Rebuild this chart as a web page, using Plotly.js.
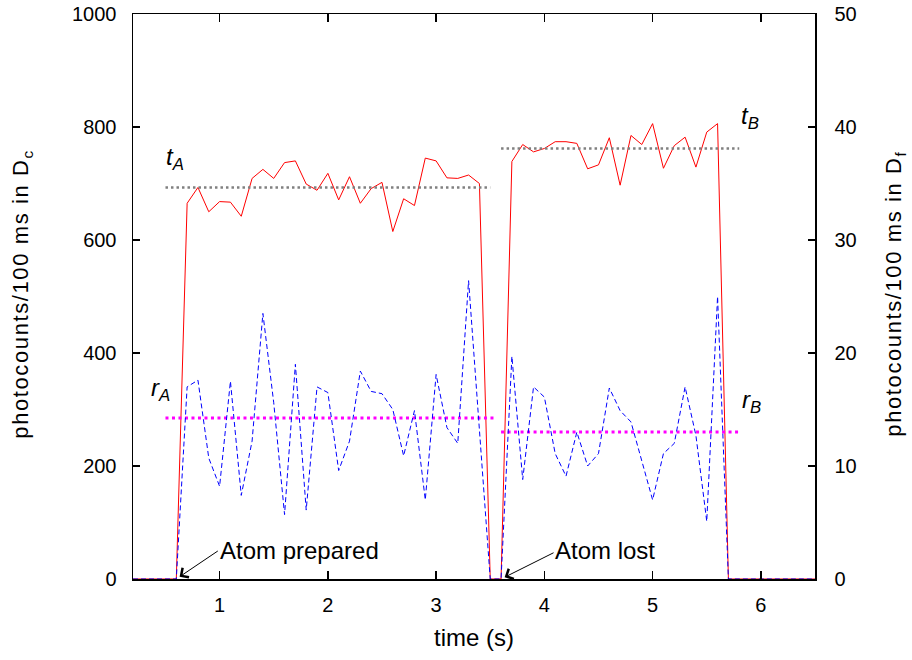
<!DOCTYPE html>
<html>
<head>
<meta charset="utf-8">
<script src="https://cdn.plot.ly/plotly-3.0.1.min.js"></script>
<style>
  html, body { margin: 0; padding: 0; background: #fff; }
  #chart { width: 912px; height: 660px; }
  .annotation[data-index="0"] .annotation-text,
  .annotation[data-index="1"] .annotation-text { letter-spacing: 1.6px; }
</style>
</head>
<body>
<div id="chart"></div>
<script>
// time axis (s)
const time = [0.2, 0.3, 0.4, 0.5, 0.6, 0.7, 0.8, 0.9, 1.0, 1.1, 1.2, 1.3, 1.4, 1.5, 1.6, 1.7, 1.8, 1.9,
  2.0, 2.1, 2.2, 2.3, 2.4, 2.5, 2.6, 2.7, 2.8, 2.9, 3.0, 3.1, 3.2, 3.3, 3.4, 3.5, 3.6, 3.7, 3.8, 3.9,
  4.0, 4.1, 4.2, 4.3, 4.4, 4.5, 4.6, 4.7, 4.8, 4.9, 5.0, 5.1, 5.2, 5.3, 5.4, 5.5, 5.6, 5.7, 5.8, 5.9,
  6.0, 6.1, 6.2, 6.3, 6.4, 6.5];

// photocounts in Dc (left axis)
const countsDc = [0, 0, 0, 0, 0,
  665, 693, 650, 668, 667, 642, 709, 725, 709, 737, 740, 699, 688, 718, 671, 712, 665, 691, 702, 615,
  673, 661, 745, 740, 710, 709, 715, 700,
  0, 0,
  739, 769, 756, 762, 774, 774, 771, 726, 733, 781, 697, 785, 769, 806, 727, 767, 782, 729, 791, 806,
  0, 0, 0, 0, 0, 0, 0, 0, 0];

// photocounts in Df (right axis)
const countsDf = [0, 0, 0, 0, 0,
  17.0, 17.6, 10.7, 8.2, 17.5, 7.4, 12.2, 23.5, 15.6, 5.7, 19.0, 6.1, 17.0, 16.5, 9.6, 12.2, 18.4, 16.6,
  16.4, 15.0, 10.9, 14.9, 7.0, 18.1, 13.4, 12.0, 26.4, 13.0,
  0, 0,
  19.7, 8.8, 17.0, 16.1, 11.1, 9.1, 13.0, 10.0, 11.1, 16.9, 14.9, 13.9, 10.4, 7.0, 11.1, 12.0, 17.0, 12.7,
  5.1, 25.0,
  0, 0, 0, 0, 0, 0, 0, 0, 0];

// mean levels (left-axis units)
const tAx = [0.5, 3.5],  tAy = 693;
const tBx = [3.6, 5.8],  tBy = 762;
const rAx = [0.5, 3.55], rAy = 285;
const rBx = [3.6, 5.8],  rBy = 260;

const xTicks = [1, 2, 3, 4, 5, 6];
const yTicks = [0, 200, 400, 600, 800, 1000];
const y2Ticks = [0, 10, 20, 30, 40, 50];

const FONT = 'Liberation Sans, Arial, sans-serif';

const traces = [
  {x: time, y: countsDf, yaxis: 'y2', type: 'scatter', mode: 'lines',
   line: {color: '#0000ff', width: 1, dash: '5px,3px'}, hoverinfo: 'skip'},
  {x: time, y: countsDc, yaxis: 'y', type: 'scatter', mode: 'lines',
   line: {color: '#ff0000', width: 1}, hoverinfo: 'skip'},
  {x: tAx, y: [tAy, tAy], mode: 'lines', line: {color: '#808080', width: 2.5, dash: '2.5px,3px'}},
  {x: tBx, y: [tBy, tBy], mode: 'lines', line: {color: '#808080', width: 2.5, dash: '2.5px,3px'}},
  {x: rAx, y: [rAy, rAy], mode: 'lines', line: {color: '#ff00ff', width: 3, dash: '3px,3.5px'}},
  {x: rBx, y: [rBy, rBy], mode: 'lines', line: {color: '#ff00ff', width: 3, dash: '3px,3.5px'}}
];

const annFont = {family: FONT, size: 24, color: '#000'};
const titleFont = {family: FONT, size: 22, color: '#000'};
const arrowStyle = {showarrow: true, arrowhead: 4, arrowsize: 2.2, arrowwidth: 1, arrowcolor: '#000', standoff: 4};

const layout = {
  width: 912, height: 660,
  margin: {l: 133, r: 97, t: 14, b: 81},
  paper_bgcolor: '#fff', plot_bgcolor: '#fff',
  showlegend: false,
  font: {family: FONT, size: 20, color: '#000'},
  xaxis: {
    range: [0.2, 6.5], tickvals: xTicks, ticktext: xTicks.map(String),
    ticks: 'inside', ticklen: 8, tickwidth: 1.5, tickcolor: '#000',
    showline: true, linecolor: '#000', linewidth: 1.5, mirror: 'ticks',
    showgrid: false, zeroline: false,
    tickfont: {size: 20}, ticklabelstandoff: 7
  },
  yaxis: {
    range: [0, 1000], tickvals: yTicks, ticktext: yTicks.map(String),
    ticks: 'inside', ticklen: 7, tickwidth: 1.5, tickcolor: '#000',
    showline: true, linecolor: '#000', linewidth: 1.5,
    showgrid: false, zeroline: false,
    tickfont: {size: 20}, ticklabelstandoff: 11
  },
  yaxis2: {
    overlaying: 'y', side: 'right',
    range: [0, 50], tickvals: y2Ticks, ticktext: y2Ticks.map(String),
    ticks: 'inside', ticklen: 7, tickwidth: 1.5, tickcolor: '#000',
    showline: true, linecolor: '#000', linewidth: 1.5,
    showgrid: false, zeroline: false,
    tickfont: {size: 20}, ticklabelstandoff: 14
  },
  annotations: [
    // axis titles
    {xref: 'paper', yref: 'paper', x: -0.163, y: 0.505, xanchor: 'center', yanchor: 'middle',
     text: 'photocounts/100 ms in D<sub>c</sub>', textangle: -90, showarrow: false, font: titleFont},
    {xref: 'paper', yref: 'paper', x: 1.117, y: 0.505, xanchor: 'center', yanchor: 'middle',
     text: 'photocounts/100 ms in D<sub>f</sub>', textangle: -90, showarrow: false, font: titleFont},
    {xref: 'paper', yref: 'paper', x: 0.5, y: -0.103, xanchor: 'center', yanchor: 'middle',
     text: 'time (s)', showarrow: false, font: annFont},
    // level labels
    {x: 0.59, y: 745, xref: 'x', yref: 'y', text: '<i>t<sub>A</sub></i>', showarrow: false, font: annFont},
    {x: 5.90, y: 816, xref: 'x', yref: 'y', text: '<i>t<sub>B</sub></i>', showarrow: false, font: annFont},
    {x: 0.455, y: 336, xref: 'x', yref: 'y', text: '<i>r<sub>A</sub></i>', showarrow: false, font: annFont},
    {x: 5.91, y: 315, xref: 'x', yref: 'y', text: '<i>r<sub>B</sub></i>', showarrow: false, font: annFont},
    // event labels
    {x: 1.735, y: 50, xref: 'x', yref: 'y', text: 'Atom prepared', showarrow: false, font: annFont},
    {x: 4.563, y: 50, xref: 'x', yref: 'y', text: 'Atom lost', showarrow: false, font: annFont},
    // arrows
    Object.assign({x: 0.6, y: 0, xref: 'x', yref: 'y', text: '', ax: 43, ay: -29}, arrowStyle),
    Object.assign({x: 3.6, y: 0, xref: 'x', yref: 'y', text: '', ax: 54, ay: -27}, arrowStyle)
  ]
};

Plotly.newPlot('chart', traces, layout, {displayModeBar: false, staticPlot: true});
</script>
</body>
</html>
